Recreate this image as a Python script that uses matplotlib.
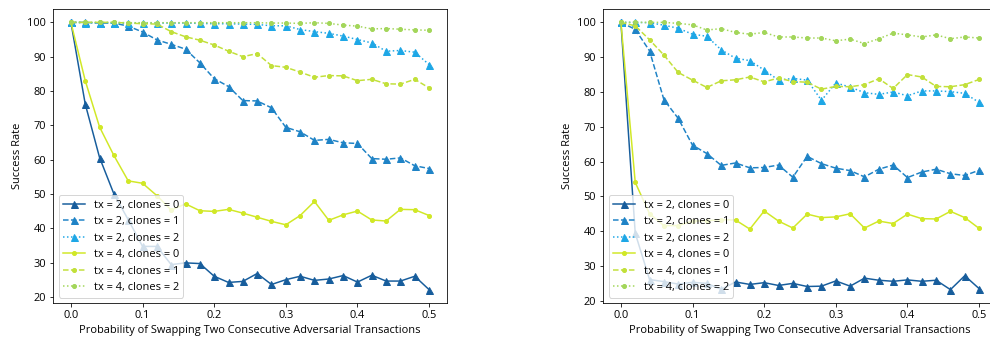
import matplotlib
matplotlib.use('Agg')
import matplotlib.pyplot as plt
import numpy as np

plt.rcParams.update({
    'font.family': ['Open Sans', 'DejaVu Sans'],
    'font.size': 11,
})

# swap probability, 0.00 .. 0.50 in steps of 0.02
swap_prob = np.round(np.arange(0, 0.501, 0.02), 2)

labels = [
    'tx = 2, clones = 0', 'tx = 2, clones = 1', 'tx = 2, clones = 2',
    'tx = 4, clones = 0', 'tx = 4, clones = 1', 'tx = 4, clones = 2',
]

# left panel
left_tx2_c0 = [100, 76.2, 60.6, 50.0, 42.5, 34.7, 34.7, 29.4, 29.9, 29.7, 26.0, 24.2, 24.5,
               26.8, 23.6, 25.0, 26.0, 24.8, 25.2, 26.2, 24.3, 26.3, 24.6, 24.6, 26.0, 22.1]
left_tx2_c1 = [100, 100, 99.8, 99.8, 98.9, 97.2, 94.9, 93.6, 92.2, 88.2, 83.6, 81.3, 77.2,
               77.1, 75.1, 69.4, 68.1, 65.6, 65.9, 64.9, 64.7, 60.3, 60.1, 60.5, 58.2, 57.4]
left_tx2_c2 = [100, 99.9, 99.8, 99.8, 99.7, 99.8, 99.8, 99.8, 99.8, 99.7, 99.6, 99.6, 99.5,
               99.4, 99.0, 99.0, 97.9, 97.3, 96.8, 96.0, 95.0, 94.0, 91.6, 91.8, 91.3, 87.7]
left_tx4_c0 = [100, 83.0, 69.5, 61.2, 53.8, 53.1, 49.5, 45.3, 47.1, 45.1, 44.9, 45.5, 44.4,
               43.2, 42.0, 41.0, 43.7, 47.8, 42.3, 43.9, 45.0, 42.4, 42.1, 45.5, 45.4, 43.7]
left_tx4_c1 = [100, 100, 100, 100, 99.8, 99.6, 99.5, 97.3, 95.8, 94.8, 93.4, 91.6, 90.0,
               90.9, 87.4, 86.9, 85.5, 84.0, 84.5, 84.4, 83.0, 83.4, 82.1, 82.0, 83.4, 80.9]
left_tx4_c2 = [100, 100, 100, 100, 99.9, 99.9, 99.9, 99.9, 99.9, 99.9, 99.9, 99.9, 99.9,
               99.9, 99.8, 99.8, 99.7, 99.9, 99.7, 99.2, 98.9, 98.1, 98.2, 98.0, 97.8, 97.7]

# right panel
right_tx2_c0 = [100, 39.4, 26.1, 25.5, 24.8, 25.3, 25.0, 23.3, 25.4, 24.7, 25.2, 24.4, 25.0,
                24.1, 24.2, 25.7, 24.2, 26.5, 25.9, 25.6, 26.0, 25.6, 25.9, 23.2, 27.2, 23.5]
right_tx2_c1 = [100, 98.0, 91.8, 77.8, 72.4, 64.7, 62.3, 58.9, 59.6, 58.2, 58.3, 59.0, 55.5,
                61.5, 59.4, 58.1, 57.4, 55.6, 57.8, 59.0, 55.4, 57.0, 57.8, 56.5, 56.0, 57.5]
right_tx2_c2 = [100, 100, 99.9, 99.2, 98.3, 96.6, 96.0, 92.1, 89.7, 89.0, 86.3, 83.4, 83.9,
                83.4, 77.6, 82.6, 81.4, 79.8, 79.3, 80.0, 78.9, 80.3, 80.3, 80.1, 79.6, 77.0]
right_tx4_c0 = [100, 54.0, 45.0, 41.6, 41.6, 42.9, 43.0, 43.3, 43.2, 40.6, 45.8, 42.9, 40.9,
                44.9, 43.9, 44.1, 45.0, 40.9, 42.9, 42.2, 44.9, 43.6, 43.5, 45.7, 43.9, 40.8]
right_tx4_c1 = [100, 99.0, 95.0, 90.6, 85.6, 83.4, 81.3, 83.2, 83.5, 84.3, 82.9, 84.0, 83.0,
                82.8, 80.8, 81.6, 81.5, 82.1, 83.8, 81.0, 85.0, 84.3, 81.6, 81.5, 82.1, 83.6]
right_tx4_c2 = [100, 100, 100, 100, 99.7, 99.3, 97.8, 98.2, 97.1, 96.6, 97.1, 95.8, 95.8,
                95.5, 95.5, 94.7, 95.2, 93.9, 95.3, 96.9, 96.4, 95.8, 96.4, 95.3, 95.8, 95.5]

colors = ['#175d9c', '#1f83c6', '#1ea7e6', '#d1e826', '#c2e03a', '#a3d65a']
styles = ['-', '--', ':', '-', '--', ':']
markers = ['^', '^', '^', '.', '.', '.']

fig = plt.figure(figsize=(990 / 72, 341 / 72), dpi=72)
ax_left = fig.add_axes([53 / 990, 38 / 341, 394 / 990, 294 / 341])
ax_right = fig.add_axes([603 / 990, 38 / 341, 394 / 990, 294 / 341])

panels = [
    (ax_left, [left_tx2_c0, left_tx2_c1, left_tx2_c2, left_tx4_c0, left_tx4_c1, left_tx4_c2]),
    (ax_right, [right_tx2_c0, right_tx2_c1, right_tx2_c2, right_tx4_c0, right_tx4_c1, right_tx4_c2]),
]

for ax, series in panels:
    for vals, lab, c, ls, mk in zip(series, labels, colors, styles, markers):
        ms = 7 if mk == '^' else 8
        ax.plot(swap_prob, vals, linestyle=ls, marker=mk, color=c, label=lab,
                markersize=ms, linewidth=1.5)
    ax.set_xlabel('Probability of Swapping Two Consecutive Adversarial Transactions')
    ax.set_ylabel('Success Rate')
    ax.set_xticks([0.0, 0.1, 0.2, 0.3, 0.4, 0.5])
    ax.set_yticks([20, 30, 40, 50, 60, 70, 80, 90, 100])
    ax.legend(loc='lower left')

fig.savefig('out.png', dpi=72)
